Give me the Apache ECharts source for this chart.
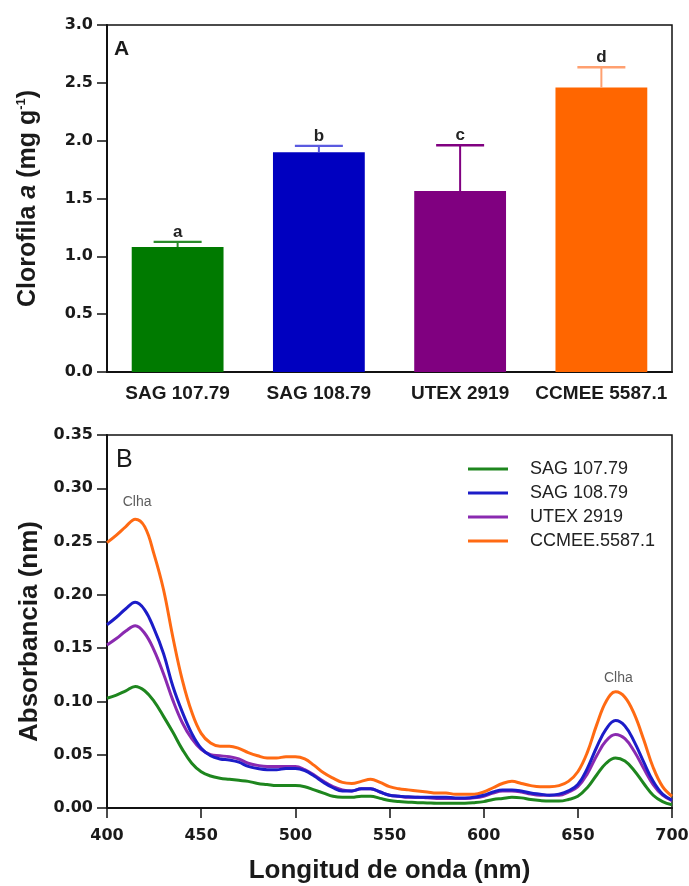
<!DOCTYPE html>
<html><head><meta charset="utf-8">
<script src="https://cdn.jsdelivr.net/npm/echarts@6/dist/echarts.min.js"></script>
<style>html,body{margin:0;padding:0;background:#fff}#c{width:689px;height:886px}</style>
</head><body><div id="c"></div>
<script>
// ---- Panel A data ----
const strains = ['SAG 107.79', 'SAG 108.79', 'UTEX 2919', 'CCMEE 5587.1'];
const chlMean = [1.08, 1.90, 1.565, 2.46];
const chlUpper = [1.125, 1.955, 1.96, 2.635];
const letters = ['a', 'b', 'c', 'd'];
const yTicksA = [0, 0.5, 1.0, 1.5, 2.0, 2.5, 3.0];

// ---- Panel B data ----
const seriesNames = ['SAG 107.79', 'SAG 108.79', 'UTEX 2919', 'CCMEE.5587.1'];
const wavelength = [400,405,410,415,420,425,430,435,440,445,450,455,460,465,470,475,480,485,490,495,500,505,510,515,520,525,530,535,540,545,550,555,560,565,570,575,580,585,590,595,600,605,610,615,620,625,630,635,640,645,650,655,660,665,670,675,680,685,690,695,700];
const absSAG10779 = [0.103,0.106,0.110,0.114,0.110,0.100,0.086,0.071,0.055,0.042,0.034,0.030,0.028,0.027,0.026,0.025,0.023,0.022,0.021,0.021,0.021,0.020,0.017,0.014,0.011,0.010,0.010,0.011,0.011,0.009,0.007,0.006,0.0055,0.005,0.0048,0.0045,0.0045,0.0045,0.0045,0.005,0.006,0.008,0.009,0.010,0.0095,0.008,0.007,0.0065,0.0065,0.008,0.011,0.019,0.031,0.042,0.047,0.044,0.035,0.023,0.012,0.006,0.003];
const absSAG10879 = [0.172,0.179,0.187,0.193,0.186,0.168,0.145,0.114,0.090,0.070,0.056,0.049,0.046,0.045,0.043,0.039,0.037,0.036,0.036,0.037,0.037,0.035,0.030,0.024,0.019,0.016,0.016,0.018,0.018,0.015,0.012,0.011,0.0105,0.010,0.010,0.010,0.010,0.0095,0.0095,0.010,0.012,0.015,0.017,0.017,0.016,0.014,0.013,0.012,0.013,0.016,0.022,0.037,0.057,0.074,0.082,0.077,0.062,0.043,0.025,0.013,0.0075];
const absUTEX2919 = [0.153,0.159,0.166,0.171,0.164,0.148,0.126,0.101,0.080,0.065,0.055,0.050,0.049,0.048,0.046,0.042,0.040,0.039,0.039,0.039,0.039,0.036,0.031,0.025,0.020,0.017,0.016,0.018,0.018,0.015,0.012,0.011,0.010,0.010,0.0095,0.009,0.009,0.009,0.009,0.0095,0.011,0.014,0.016,0.016,0.015,0.013,0.012,0.012,0.012,0.015,0.020,0.032,0.049,0.063,0.069,0.065,0.053,0.037,0.022,0.012,0.007];
const absCCMEE = [0.249,0.256,0.264,0.271,0.264,0.238,0.205,0.160,0.120,0.090,0.070,0.061,0.058,0.058,0.056,0.052,0.049,0.047,0.047,0.048,0.048,0.046,0.040,0.033,0.028,0.024,0.023,0.025,0.027,0.024,0.020,0.018,0.017,0.016,0.015,0.014,0.014,0.013,0.013,0.013,0.015,0.019,0.023,0.025,0.023,0.021,0.020,0.020,0.021,0.025,0.034,0.052,0.078,0.100,0.109,0.104,0.088,0.064,0.038,0.020,0.011];
const peakLabels = [[416, 0.287], [671.5, 0.122]];

// ---- styles ----
const FONT = "'Liberation Sans', Arial, sans-serif";
const NUMFONT = "'DejaVu Sans', 'Liberation Sans', sans-serif";
const barColors = ['#007a00', '#0000c0', '#800080', '#ff6600'];
const errColors = ['#2a8a2a', '#5a5ae0', '#800080', '#ffa070'];
const lineColors = ['#1e861e', '#1c1cc8', '#8a2ab0', '#ff6a13'];
const absData = [absSAG10779, absSAG10879, absUTEX2919, absCCMEE];

const chart = echarts.init(document.getElementById('c'), null, {renderer: 'canvas'});

const lineSeries = seriesNames.map((n, i) => ({
  name: n, type: 'line', xAxisIndex: 1, yAxisIndex: 1,
  smooth: 0.4, showSymbol: false, symbol: 'none',
  data: wavelength.map((w, k) => [w, absData[i][k]]),
  lineStyle: {color: lineColors[i], width: 3},
  itemStyle: {color: lineColors[i]},
  z: 3 + (3 - i)
}));

const numLabel = {fontFamily: NUMFONT, fontWeight: 'bold', fontSize: 16, color: '#1a1a1a'};

const option = {
  animation: false,
  backgroundColor: '#fff',
  textStyle: {fontFamily: FONT},
  grid: [
    {left: 107, top: 25, width: 565, height: 347, show: true, borderColor: '#111', borderWidth: 1.5, backgroundColor: 'transparent', containLabel: false, outerBoundsMode: 'none'},
    {left: 107, top: 435, width: 565, height: 373, show: true, borderColor: '#111', borderWidth: 1.5, backgroundColor: 'transparent', containLabel: false, outerBoundsMode: 'none'}
  ],
  legend: {
    data: seriesNames, orient: 'vertical', left: 463, top: 455, itemGap: 6,
    itemWidth: 40, itemHeight: 3, icon: 'rect',
    textStyle: {fontFamily: FONT, fontSize: 18, color: '#222', padding: [0, 0, 0, 17]}
  },
  xAxis: [
    {type: 'category', gridIndex: 0, data: strains,
     axisLine: {lineStyle: {color: '#111', width: 2}},
     axisTick: {alignWithLabel: true, length: 8, lineStyle: {color: '#111', width: 1.5}},
     axisLabel: {interval: 0, hideOverlap: false, fontFamily: FONT, fontWeight: 'bold', fontSize: 19, color: '#1a1a1a', margin: 12}},
    {type: 'value', gridIndex: 1, min: 400, max: 700, interval: 50,
     axisLine: {lineStyle: {color: '#111', width: 2}},
     axisTick: {length: 10, lineStyle: {color: '#111', width: 1.5}},
     splitLine: {show: false},
     axisLabel: Object.assign({margin: 20}, numLabel),
     name: 'Longitud de onda (nm)', nameLocation: 'middle', nameGap: 50,
     nameTextStyle: {fontFamily: FONT, fontWeight: 'bold', fontSize: 26, color: '#1a1a1a'}}
  ],
  yAxis: [
    {type: 'value', gridIndex: 0, min: 0, max: 3, interval: 0.5,
     axisLine: {show: true, lineStyle: {color: '#111', width: 2}},
     axisTick: {show: true, length: 10, lineStyle: {color: '#111', width: 1.5}},
     splitLine: {show: false},
     axisLabel: Object.assign({margin: 14, formatter: v => v.toFixed(1)}, numLabel),
     name: '{b|Clorofila }{i|a}{b| (mg g}{s|-1}{b|)}', nameLocation: 'middle', nameGap: 66, nameRotate: 90,
     nameTextStyle: {rich: {
       b: {fontFamily: FONT, fontWeight: 'bold', fontSize: 25, color: '#1a1a1a'},
       i: {fontFamily: FONT, fontWeight: 'bold', fontStyle: 'italic', fontSize: 25, color: '#1a1a1a'},
       s: {fontFamily: FONT, fontWeight: 'bold', fontSize: 13, color: '#1a1a1a', verticalAlign: 'top', padding: [0, 0, 13, 0]}
     }}},
    {type: 'value', gridIndex: 1, min: 0, max: 0.35, interval: 0.05,
     axisLine: {show: true, lineStyle: {color: '#111', width: 2}},
     axisTick: {show: true, length: 10, lineStyle: {color: '#111', width: 1.5}},
     splitLine: {show: false},
     axisLabel: Object.assign({margin: 14, formatter: v => v.toFixed(2)}, numLabel),
     name: 'Absorbancia (nm)', nameLocation: 'middle', nameGap: 64, nameRotate: 90,
     nameTextStyle: {fontFamily: FONT, fontWeight: 'bold', fontSize: 26, color: '#1a1a1a', padding: [0, 20, 0, 0]}}
  ],
  graphic: [
    {type: 'text', left: 114, top: 39, style: {text: 'A', font: 'bold 21px ' + FONT, fill: '#1a1a1a'}},
    {type: 'text', left: 116, top: 448, style: {text: 'B', font: '25px ' + FONT, fill: '#1a1a1a'}}
  ],
  series: [
    {type: 'bar', xAxisIndex: 0, yAxisIndex: 0, barWidth: '65%',
     data: chlMean.map((v, i) => ({value: v, itemStyle: {color: barColors[i]}})), z: 2},
    {type: 'custom', xAxisIndex: 0, yAxisIndex: 0, z: 5,
     data: chlMean.map((v, i) => [i, v, chlUpper[i]]),
     renderItem: function (params, api) {
       const idx = params.dataIndex;
       const p0 = api.coord([api.value(0), api.value(1)]);
       const p1 = api.coord([api.value(0), api.value(2)]);
       const c = errColors[idx];
       const hw = 24;
       return {type: 'group', children: [
         {type: 'line', shape: {x1: p0[0], y1: p0[1], x2: p1[0], y2: p1[1]}, style: {stroke: c, lineWidth: 2}},
         {type: 'line', shape: {x1: p1[0] - hw, y1: p1[1], x2: p1[0] + hw, y2: p1[1]}, style: {stroke: c, lineWidth: 2.4}},
         {type: 'text', x: p1[0], y: p1[1] - 1, style: {text: letters[idx], textAlign: 'center', textVerticalAlign: 'bottom', font: 'bold 17px ' + FONT, fill: '#222'}}
       ]};
     }},
    ...lineSeries,
    {type: 'scatter', xAxisIndex: 1, yAxisIndex: 1, symbolSize: 0, silent: true,
     data: peakLabels,
     label: {show: true, position: 'inside', formatter: 'Clha', fontFamily: FONT, fontSize: 14, color: '#333'}}
  ]
};
chart.setOption(option);
</script>
</body></html>
